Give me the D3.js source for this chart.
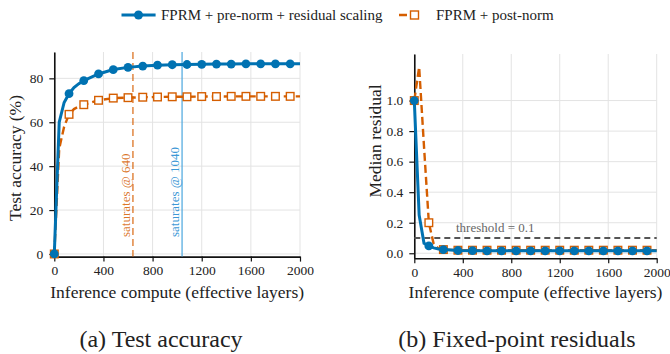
<!DOCTYPE html>
<html>
<head>
<meta charset="utf-8">
<script src="https://cdn.jsdelivr.net/npm/d3@7"></script>
<style>
body { margin: 0; background: #fff; }
svg text { font-family: "Liberation Serif", "Times New Roman", serif !important; fill: #222; }
</style>
</head>
<body>
<svg width="670" height="354"></svg>
<script>
// effective layers
var steps = [0, 40, 80, 120, 160, 200, 240, 360, 480, 600, 720, 840, 960, 1080, 1200, 1320, 1440, 1560, 1680, 1800, 1920, 2000];
// (a) test accuracy, %
var accPre  = [0, 60, 69, 73, 75.8, 77.6, 79, 82, 84, 85, 85.6, 86, 86.2, 86.3, 86.4, 86.5, 86.5, 86.6, 86.6, 86.6, 86.6, 86.6];
var accPost = [0, 48, 58, 63.6, 66, 67.2, 68, 70, 71, 71.2, 71.4, 71.5, 71.6, 71.6, 71.7, 71.7, 71.8, 71.8, 71.8, 71.8, 71.8, 71.8];
// (b) median residual
var resPre  = [1.0, 0.25, 0.065, 0.048, 0.035, 0.028, 0.024, 0.018, 0.017, 0.016, 0.016, 0.016, 0.016, 0.016, 0.016, 0.016, 0.016, 0.016, 0.016, 0.016, 0.016, 0.016];
var resPost = [1.0, 1.22, 0.7, 0.2, 0.06, 0.03, 0.024, 0.02, 0.02, 0.02, 0.02, 0.02, 0.02, 0.02, 0.02, 0.02, 0.02, 0.02, 0.02, 0.02, 0.02, 0.02];
var xTicks = [0, 400, 800, 1200, 1600, 2000];
var accTicks = [0, 20, 40, 60, 80];
var resTicks = [0, 0.2, 0.4, 0.6, 0.8, 1.0];
var satPost = 640, satPre = 1040, threshold = 0.1;
var seriesNames = ["FPRM + pre-norm + residual scaling", "FPRM + post-norm"];

var blue = "#0072B2", orange = "#D55E00", sky = "#4aa6de", grid = "#e3e3e3";

var svg = d3.select("svg");

function panel(left, right, top, bottom, yDomain, yTicks, yFmt, pre, post, ylabel, ylabelY, caption) {
	var x = d3.scaleLinear().domain([0, 2000]).range([left, right]);
	var y = d3.scaleLinear().domain(yDomain).range([bottom, top]);
	var g = svg.append("g");

	// grid
	g.selectAll(".gx").data(xTicks).enter().append("line")
		.attr("x1", function(d) { return x(d); }).attr("x2", function(d) { return x(d); })
		.attr("y1", top).attr("y2", bottom)
		.attr("stroke", grid).attr("stroke-width", 1);
	g.selectAll(".gy").data(yTicks).enter().append("line")
		.attr("x1", left).attr("x2", right)
		.attr("y1", function(d) { return y(d); }).attr("y2", function(d) { return y(d); })
		.attr("stroke", grid).attr("stroke-width", 1);

	var xa = g.append("g").attr("transform", "translate(0," + bottom + ")")
		.call(d3.axisBottom(x).tickValues(xTicks).tickFormat(d3.format("d")).tickSize(5).tickPadding(4).tickSizeOuter(0));
	var ya = g.append("g").attr("transform", "translate(" + left + ",0)")
		.call(d3.axisLeft(y).tickValues(yTicks).tickFormat(yFmt).tickSize(5).tickPadding(6).tickSizeOuter(0));
	[xa, ya].forEach(function(a) {
		a.attr("font-family", null);
		a.select(".domain").attr("stroke", "#111").attr("stroke-width", 1.6);
		a.selectAll(".tick line").attr("stroke", "#111").attr("stroke-width", 1.2);
		a.selectAll("text").attr("font-size", 13.5).attr("fill", "#222");
	});

	g.append("text").attr("x", (left + right) / 2).attr("y", 298)
		.attr("text-anchor", "middle").attr("font-size", 17.5).text("Inference compute (effective layers)");
	g.append("text").attr("transform", "translate(" + (left - 33) + "," + ylabelY + ") rotate(-90)")
		.attr("text-anchor", "middle").attr("font-size", 17.5).text(ylabel);
	g.append("text").attr("x", caption.cx).attr("y", 347)
		.attr("text-anchor", "middle").attr("font-size", 24).text(caption.text);

	return { g: g, x: x, y: y, pre: pre, post: post };
}

function drawSeries(p) {
	var line = d3.line().x(function(d, i) { return p.x(steps[i]); }).y(function(d) { return p.y(d); });
	p.g.append("path").datum(p.post).attr("d", line)
		.attr("fill", "none").attr("stroke", orange).attr("stroke-width", 2.4).attr("stroke-dasharray", "8,4");
	p.g.selectAll(".mpost").data(p.post.filter(function(d, i) { return steps[i] % 120 == 0; })).enter().append("rect")
		.attr("x", function(d, i) { return p.x(i * 120) - 3.8; })
		.attr("y", function(d) { return p.y(d) - 3.8; })
		.attr("width", 7.6).attr("height", 7.6)
		.attr("fill", "#fff").attr("stroke", orange).attr("stroke-width", 1.4);
	p.g.append("path").datum(p.pre).attr("d", line)
		.attr("fill", "none").attr("stroke", blue).attr("stroke-width", 3);
	p.g.selectAll(".mpre").data(p.pre.filter(function(d, i) { return steps[i] % 120 == 0; })).enter().append("circle")
		.attr("cx", function(d, i) { return p.x(i * 120); })
		.attr("cy", function(d) { return p.y(d); })
		.attr("r", 4.4).attr("fill", blue);
}

// (a)
var a = panel(54.3, 300, 52, 256.6, [-1.2, 92], accTicks, d3.format("d"), accPre, accPost,
	"Test accuracy (%)", 158, { cx: 161, text: "(a) Test accuracy" });

a.g.append("line").attr("x1", a.x(satPost)).attr("x2", a.x(satPost)).attr("y1", 52).attr("y2", 256.6)
	.attr("stroke", orange).attr("stroke-opacity", 0.75).attr("stroke-width", 1.5).attr("stroke-dasharray", "7,4");
a.g.append("line").attr("x1", a.x(satPre)).attr("x2", a.x(satPre)).attr("y1", 52).attr("y2", 256.6)
	.attr("stroke", sky).attr("stroke-width", 1.2);
a.g.append("text").attr("transform", "translate(" + (a.x(satPost) - 3) + ",237) rotate(-90)")
	.attr("font-size", 13).style("fill", orange).style("fill-opacity", 0.85).text("saturates @ " + satPost);
a.g.append("text").attr("transform", "translate(" + (a.x(satPre) - 3) + ",237) rotate(-90)")
	.attr("font-size", 13).style("fill", "#3d98d6").text("saturates @ " + satPre);
drawSeries(a);

// (b)
var b = panel(414.3, 656.7, 54, 258.3, [-0.033, 1.305], resTicks, d3.format(".1f"), resPre, resPost,
	"Median residual", 141, { cx: 517, text: "(b) Fixed-point residuals" });
b.g.append("line").attr("x1", b.x(0)).attr("x2", b.x(2000)).attr("y1", b.y(threshold)).attr("y2", b.y(threshold))
	.attr("stroke", "#555").attr("stroke-width", 1.8).attr("stroke-dasharray", "6,4");
b.g.append("text").attr("x", 456).attr("y", b.y(threshold) - 6)
	.attr("font-size", 13).style("fill", "#666").text("threshold = " + threshold);
drawSeries(b);

// legend
var lg = svg.append("g");
lg.append("line").attr("x1", 121.5).attr("x2", 155.6).attr("y1", 15).attr("y2", 15)
	.attr("stroke", blue).attr("stroke-width", 3);
lg.append("circle").attr("cx", 138.5).attr("cy", 15).attr("r", 4.5).attr("fill", blue);
lg.append("text").attr("x", 161).attr("y", 20).attr("font-size", 15).text(seriesNames[0]);
lg.append("line").attr("x1", 399).attr("x2", 420).attr("y1", 15).attr("y2", 15)
	.attr("stroke", orange).attr("stroke-width", 2.4).attr("stroke-dasharray", "8,4");
lg.append("rect").attr("x", 410.5).attr("y", 11).attr("width", 8).attr("height", 8)
	.attr("fill", "#fff").attr("stroke", orange).attr("stroke-width", 1.4);
lg.append("text").attr("x", 436).attr("y", 20).attr("font-size", 15).text(seriesNames[1]);
</script>
</body>
</html>
